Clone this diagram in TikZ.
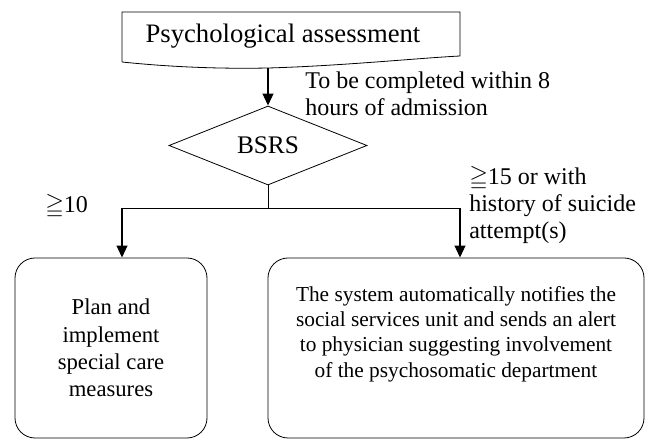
\documentclass[tikz,border=0pt]{standalone}
\usepackage{amsmath,amssymb}
\usepackage{fontspec}
\setmainfont{Liberation Serif}
\usetikzlibrary{arrows.meta,positioning,shapes.geometric,calc}

\begin{document}
\begin{tikzpicture}[x=0.75pt, y=-0.75pt, every node/.style={font=\fontsize{17}{20}\selectfont}, box/.style={rectangle, rounded corners=15pt, draw=black, line width=0.6pt, align=center, minimum width=144pt, minimum height=135pt}, decision/.style={diamond, draw=black, line width=0.6pt, minimum width=148.5pt, minimum height=53.5pt, inner sep=0pt}, arrow/.style={-{Triangle[width=8pt,length=9pt]}, line width=1.5pt}, line/.style={line width=0.6pt}, label/.style={align=left, anchor=west, inner sep=0pt, font=\fontsize{18}{20.5}\selectfont}]
\useasboundingbox (0,0) rectangle (651,441);
% document shape
\node[font=\fontsize{20}{24}\selectfont] (assess) at (283,36) {Psychological assessment};
\draw[line] (122,62) -- (122,12) -- (460,12) -- (460,56) .. controls (420,58) and (340,66) .. (268,68) coordinate (docbottom) .. controls (220,69) and (170,67) .. (122,62);
\node[decision, font=\fontsize{19}{22}\selectfont] (bsrs) at (268,145.5) {BSRS};
\node[box, minimum width=144pt, font=\fontsize{17}{20.5}\selectfont] (plan) at (111,348) {Plan and\\implement\\special care\\measures};
\node[box, minimum width=282pt] (notify) at (456,348) {};
\node[align=center, font=\fontsize{16}{19}\selectfont] (notifytext) at ([yshift=10.5pt]notify.center) {The system automatically notifies the\\social services unit and sends an alert\\to physician suggesting involvement\\of the psychosomatic department};
\coordinate (split) at (268,208);
\coordinate (splitl) at (122,208);
\coordinate (splitr) at (460,208);
\draw[arrow] (docbottom) -- (bsrs.north);
\draw[line] (bsrs.south) -- (split);
\draw[line] (splitl) -- (splitr);
\draw[arrow] (splitl) -- (splitl |- plan.north);
\draw[arrow] (splitr) -- (splitr |- notify.north);
\node[label] (within) at (305,94) {To be completed within 8\\hours of admission};
\node[label] (low) at (45,207) {$\geqq$10};
\node[label] (high) at (469,205) {$\geqq$15 or with\\history of suicide\\attempt(s)};
\end{tikzpicture}
\end{document}
